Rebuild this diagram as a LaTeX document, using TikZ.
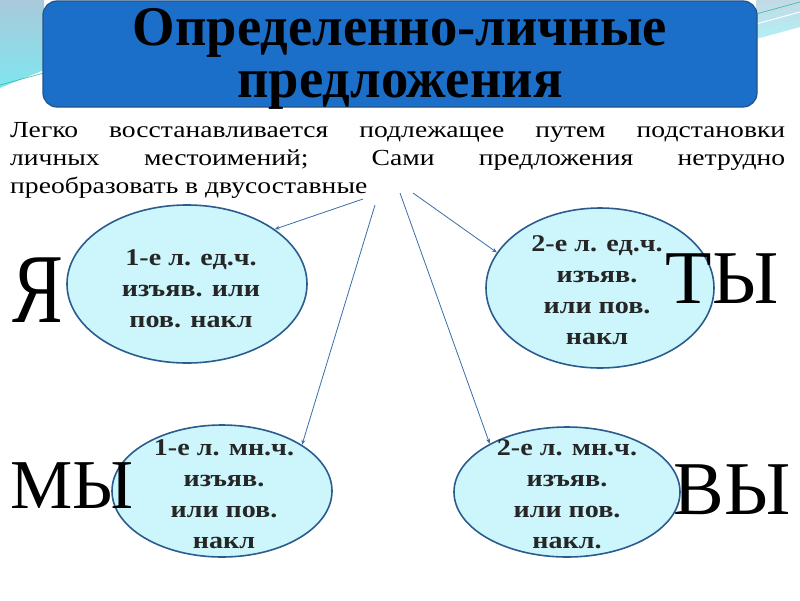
\documentclass[tikz,border=0pt]{standalone}
\usepackage{fontspec}
\setmainfont{Liberation Serif}
\newfontfamily\titlefont[FakeStretch=0.975]{Liberation Serif}
\newfontfamily\bodyfont[FakeStretch=1.2]{Liberation Serif}
\newfontfamily\ovalfont[FakeStretch=1.17]{Liberation Serif}
\usetikzlibrary{arrows.meta,positioning,shapes.geometric}
\definecolor{SlideBlue}{HTML}{1C6FC8}
\definecolor{SlideEdge}{HTML}{23548A}
\definecolor{OvalFill}{HTML}{CCF6FC}
\definecolor{OvalEdge}{HTML}{2B5C8E}
\definecolor{LinkBlue}{HTML}{3B6EA8}
\definecolor{SwooshTop}{HTML}{A9C9DA}
\definecolor{SwooshCyan}{HTML}{7FE6F0}
\definecolor{SwooshLine}{HTML}{3BB89A}

\begin{document}
\begin{tikzpicture}[x=1pt,y=-1pt,
  oval/.style={ellipse,draw=OvalEdge,line width=1.6pt,fill=OvalFill,inner sep=0pt},
  ovaltext/.style={font=\ovalfont\bfseries\fontsize{24}{31}\selectfont,text=black!85,align=center,inner sep=0pt},
  pronoun/.style={font=\fontsize{76}{80}\selectfont,inner sep=0pt},
  link/.style={-{Stealth[length=5pt,width=4pt]},LinkBlue,line width=0.8pt}]
  \useasboundingbox (0,0) rectangle (800,600);
  \fill[white] (0,0) rectangle (800,600);
  % bandes du fond
  \shade[top color=SwooshTop,bottom color=SwooshCyan] (0,0) -- (44,0) -- (44,70) -- (0,88) -- cycle;
  \draw[SwooshLine,line width=0.6pt] (0,85) -- (44,73);
  \shade[top color=SwooshTop!70,bottom color=SwooshCyan!60] (756,0) -- (800,0) -- (800,27) -- (756,39) -- cycle;
  \draw[SwooshLine,line width=0.6pt] (756,14) -- (800,2);
  \draw[white,line width=1pt] (756,24) -- (800,12);
  % titre
  \node[draw=SlideEdge,line width=1.2pt,rounded corners=14pt,fill=SlideBlue,minimum width=714,minimum height=106] (title) at (400,54) {};
  \node[font=\titlefont\bfseries\fontsize{56}{52}\selectfont,align=center,inner sep=0pt] (titletext) at (400,59)
    {Определенно-личные\\предложения};
  \node[anchor=north west,text width=775,align=justify,inner sep=0pt,font=\bodyfont\fontsize{23}{28}\selectfont] (rule) at (10,122)
    {Легко восстанавливается подлежащее путем подстановки\linebreak
     личных местоимений; Сами предложения нетрудно\linebreak
     преобразовать в двусоставные};
  % ovals
  \node[oval,minimum width=240,minimum height=158] (sg1) at (187,284) {};
  \node[oval,minimum width=228,minimum height=160] (sg2) at (600,288) {};
  \node[oval,minimum width=220,minimum height=132] (pl1) at (222,491) {};
  \node[oval,minimum width=226,minimum height=130] (pl2) at (567,492) {};
  \node[ovaltext] (sg1t) at (191,289) {1-е л. ед.ч.\\изъяв. или\\пов. накл};
  \node[ovaltext] (sg2t) at (597,290) {2-е л. ед.ч.\\изъяв.\\или пов.\\накл};
  \node[ovaltext] (pl1t) at (224,494) {1-е л. мн.ч.\\изъяв.\\или пов.\\накл};
  \node[ovaltext] (pl2t) at (567,494) {2-е л. мн.ч.\\изъяв.\\или пов.\\накл.};
  % pronoms
  \node[pronoun] (ya) at (38,290) {\scalebox{1}[1.3]{Я}};
  \node[pronoun] (ty) at (722,279) {ТЫ};
  \node[pronoun,font=\fontsize{70}{74}\selectfont] (my) at (72,486) {МЫ};
  \node[pronoun] (vy) at (732,490) {ВЫ};
  % fleches
  \coordinate (s1) at (363,199);
  \coordinate (s2) at (375,205);
  \coordinate (s3) at (400,193);
  \coordinate (s4) at (413,193);
  \draw[link] (s1) -- (sg1.32);
  \draw[link] (s2) -- (pl1.30);
  \draw[link] (s3) -- (pl2.148);
  \draw[link] (s4) -- (sg2.161);
\end{tikzpicture}
\end{document}
